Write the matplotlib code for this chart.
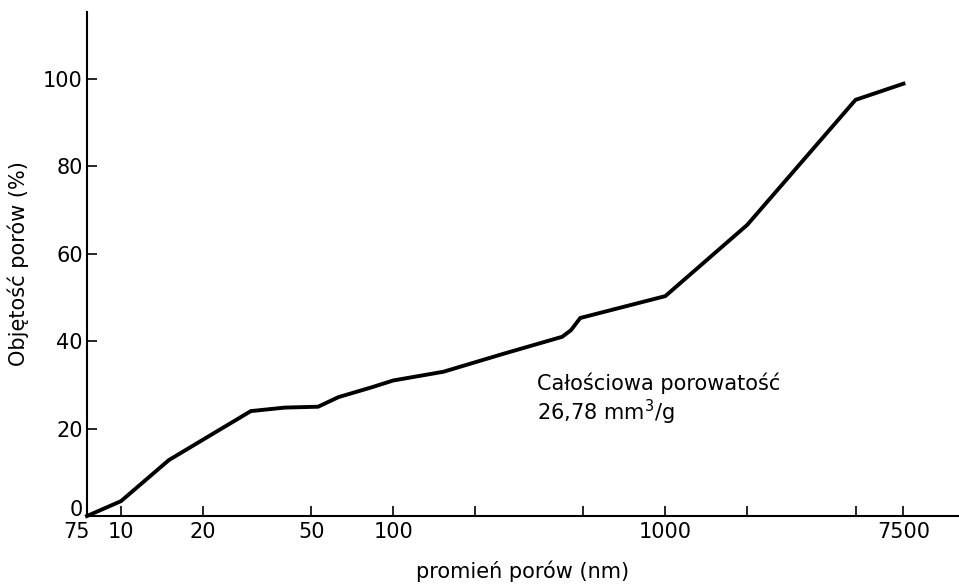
import matplotlib
matplotlib.use("Agg")
import matplotlib.pyplot as plt
import matplotlib.transforms as mtransforms
from matplotlib.ticker import FixedLocator, NullLocator

# Data
radius_nm = [7.5, 10, 15, 30, 40, 53, 63, 84, 100, 153, 254, 418, 450, 487, 1000, 2000, 5000, 7500]
volume_pct = [0, 3.4, 12.8, 24.0, 24.8, 25.0, 27.2, 29.5, 31.0, 33.0, 37.1, 41.0, 42.5, 45.3, 50.3, 66.6, 95.2, 98.9]

xtick_pos = [7.5, 10, 20, 50, 100, 200, 500, 1000, 2000, 5000, 7500]
xtick_labels = ["75", "10", "20", "50", "100", "", "", "1000", "", "", "7500"]
ytick_pos = [0, 20, 40, 60, 80, 100]

fig = plt.figure(figsize=(9.59, 5.88), dpi=100)
ax = fig.add_axes([87/959, 1 - 516/588, 872/959, (516 - 12)/588])

ax.plot(radius_nm, volume_pct, color="black", lw=2.8, solid_joinstyle="miter", clip_on=False)
ax.set_xscale("log")
ax.set_xlim(7.5, 12000)
ax.set_ylim(0, 115.3)

ax.xaxis.set_major_locator(FixedLocator(xtick_pos))
ax.set_xticklabels(xtick_labels)
ax.xaxis.set_minor_locator(NullLocator())
ax.set_yticks(ytick_pos)

for s in ["top", "right"]:
    ax.spines[s].set_visible(False)
for s in ["left", "bottom"]:
    ax.spines[s].set_linewidth(1.5)

ax.tick_params(axis="both", direction="in", length=7, width=1.2, labelsize=15, colors="black")
ax.tick_params(axis="x", pad=4)
ax.tick_params(axis="y", pad=3)

# nudge the corner labels apart as in the reference
first_x = ax.get_xticklabels()[0]
first_x.set_horizontalalignment("right")
first_x.set_transform(first_x.get_transform() + mtransforms.ScaledTranslation(0.03, 0, fig.dpi_scale_trans))
first_y = ax.get_yticklabels()[0]
first_y.set_transform(first_y.get_transform() + mtransforms.ScaledTranslation(0, 0.08, fig.dpi_scale_trans))

ax.set_xlabel("promień porów (nm)", fontsize=15, labelpad=14)
ax.set_ylabel("Objętość porów (%)", fontsize=15, labelpad=10)

ax.text(338, 30.4, "Całościowa porowatość", fontsize=15, va="center", ha="left")
ax.text(338, 23.8, "26,78 mm$^3$/g", fontsize=15, va="center", ha="left")

fig.savefig("out.png", dpi=100)
